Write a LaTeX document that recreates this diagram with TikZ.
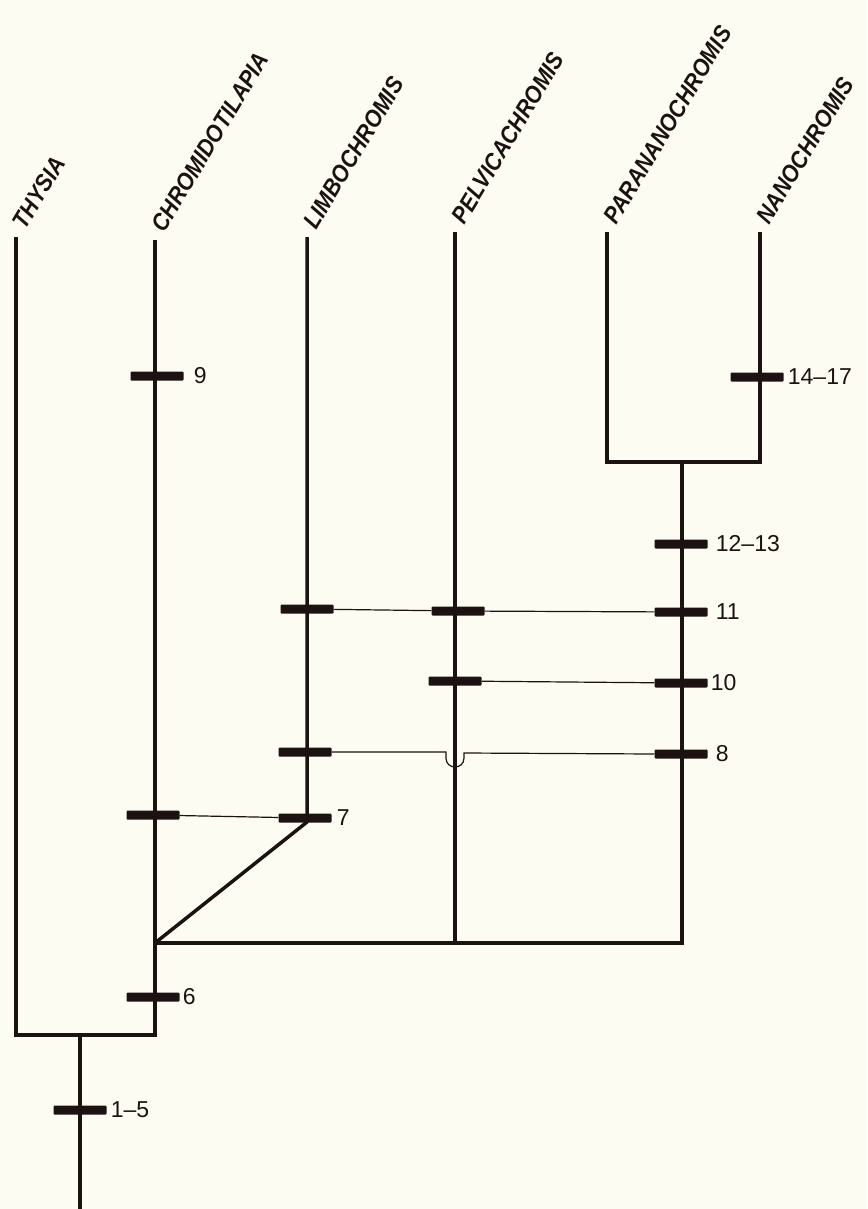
\documentclass[tikz,border=0pt]{standalone}
\usepackage{fontspec}
\setmainfont{Liberation Sans}
\newfontfamily\taxonfont[FakeStretch=0.9]{Liberation Sans}
\usetikzlibrary{positioning}
\definecolor{paper}{RGB}{252,252,242}
\definecolor{ink}{RGB}{28,18,18}
\tikzset{
  br/.style={ink,line width=3.5pt},
  link/.style={ink,line width=1.2pt},
  bar/.style={fill=ink,draw=none,rectangle,minimum width=53pt,minimum height=9pt,inner sep=0pt,rounded corners=1pt},
  num/.style={anchor=west,inner sep=0pt,font=\fontsize{23}{23}\selectfont,text=ink},
  taxon/.style={anchor=south west,inner sep=0pt,rotate=59,font=\taxonfont\fontsize{24}{24}\selectfont\bfseries\itshape,text=ink}
}

\begin{document}
\begin{tikzpicture}[x=1pt,y=-1pt]
  \fill[paper] (0,0) rectangle (867,1209);
  \useasboundingbox (0,0) rectangle (867,1209);
  % tips and joints
  \coordinate (thy) at (16,237);   \coordinate (chr) at (155,240);
  \coordinate (lim) at (307,237);  \coordinate (pel) at (455,232);
  \coordinate (par) at (607,232);  \coordinate (nan) at (760,232);
  \coordinate (root) at (80,1209); \coordinate (j1) at (80,1035);
  \coordinate (j2) at (155,943);   \coordinate (j3) at (682,943);
  \coordinate (j4) at (682,462);   \coordinate (j7) at (307,822);
  % branches
  \draw[br] (thy) |- (j1) -| (chr);
  \draw[br] (j1) -- (root);
  \draw[br] (j2) -- (j3) -- (j4);
  \draw[br] (par) |- (j4) -| (nan);
  \draw[br] (pel) -- (pel |- j2);
  \draw[br,line join=round] (lim) -- (j7) -- ++(-5,4) -- (j2);
  % taxa
  \foreach \t/\n in {thy/THYSIA,chr/CHROMIDOTILAPIA,lim/LIMBOCHROMIS,pel/PELVICACHROMIS,par/PARANANOCHROMIS,nan/NANOCHROMIS}
    \node[taxon] at ([shift={(10,-6)}]\t) {\n};
  % character bars
  \node[bar] (b15) at (80,1110) {};   \node[num,right=4pt of b15] {1--5};
  \node[bar] (b6) at (153,997) {};    \node[num,right=3pt of b6] {6};
  \node[bar] (c7) at (153,815) {};    \node[bar] (b7) at (305,818) {};
  \node[num,right=5pt of b7] {7};
  \node[bar] (l8) at (305,752) {};    \node[bar] (b8) at (681,754) {};
  \node[num,right=8pt of b8] {8};
  \node[bar] (b9) at (157,376) {};    \node[num,right=10pt of b9] {9};
  \node[bar] (p10) at (455,681) {};   \node[bar] (b10) at (681,683) {};
  \node[num,right=3pt of b10] {10};
  \node[bar] (l11) at (307,609) {};   \node[bar] (p11) at (458,611) {};
  \node[bar] (b11) at (681,612) {};   \node[num,right=8pt of b11] {11};
  \node[bar] (b12) at (681,544) {};   \node[num,right=8pt of b12] {12--13};
  \node[bar] (b14) at (757,377) {};   \node[num,right=4pt of b14] {14--17};
  % homoplasy links
  \draw[link] (c7) -- (b7);
  \draw[link] (l11) -- (p11) -- (b11);
  \draw[link] (p10) -- (b10);
  \draw[link] (l8.east) -- (446,752) -- (446,758) .. controls (446,770) and (464,770) .. (464,758) -- (464,753) -- (b8.west);
\end{tikzpicture}
\end{document}
